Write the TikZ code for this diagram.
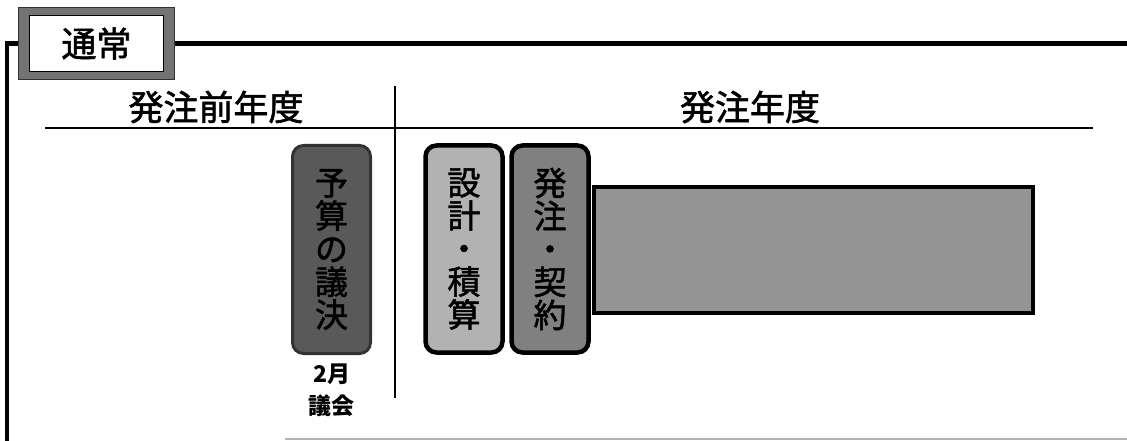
\documentclass[tikz,border=0pt]{standalone}
\usepackage{fontspec}
\setmainfont{Noto Sans CJK JP}
\newfontfamily\jpmed[FakeBold=1.6]{Noto Sans CJK JP}
\usetikzlibrary{positioning}

\begin{document}
\begin{tikzpicture}[x=1pt, y=-1pt,
  stage/.style={draw=black, line width=4.5pt, rounded corners=11pt, minimum width=77pt, minimum height=207pt, inner sep=0pt, align=center, font=\jpmed\fontsize{33}{33}\selectfont},
  heading/.style={font=\jpmed\fontsize{35}{36}\selectfont},
  frame/.style={line width=4.5pt}]
  \useasboundingbox (0, 0) rectangle (1127, 441);
  \fill[white] (0, 0) rectangle (1127, 441);

  % title box
  \node[fill=black!55, draw=black!80, line width=1.5pt, minimum width=156pt, minimum height=72pt] at (96.5, 43.5) (n_frame) {};
  \node[fill=white, draw=black, line width=1.5pt, minimum width=134pt, minimum height=56pt, font=\jpmed\fontsize{35}{36}\selectfont] at (96.5, 43.5) (n_title) {通常};

  \coordinate (c_bl) at (7, 441);
  \coordinate (c_tr) at (1127, 43.5);
  \draw[frame] (n_frame.west) -| (c_bl);
  \draw[frame] (n_frame.east) -- (c_tr);

  % years
  \node[heading] at (216, 107) (n_prev) {発注前年度};
  \node[heading] at (750, 107) (n_curr) {発注年度};

  \coordinate (c_rl) at (45, 128);
  \coordinate (c_rr) at (1093, 128);
  \coordinate (c_dt) at (395, 86);
  \coordinate (c_db) at (395, 398);
  \draw[line width=2.5pt] (c_rl) -- (c_rr);
  \draw[line width=2.5pt] (c_dt) -- (c_db);

  % stages
  \node[draw, line width=4.5pt, fill=black!42, minimum width=439pt, minimum height=126pt] at (813.5, 250) (n_bar) {};

  \node[stage, fill=black!65, draw=black!80, line width=3pt, minimum width=78pt, minimum height=208pt] at (331.5, 249.5) (n_budget) {予\\算\\の\\議\\決};
  \node[stage, fill=black!30] at (464, 249) (n_design) {設\\計\\・\\積\\算};
  \node[stage, fill=black!50] at (550, 249) (n_order) {発\\注\\・\\契\\約};

  \node[below=5pt of n_budget, align=center, font=\bfseries\fontsize{23}{32}\selectfont] (n_council) {2月\\議会};

  \coordinate (c_b1) at (285, 439);
  \coordinate (c_b2) at (1127, 439);
  \draw[gray!60, line width=1.5pt] (c_b1) -- (c_b2);

\end{tikzpicture}
\end{document}
